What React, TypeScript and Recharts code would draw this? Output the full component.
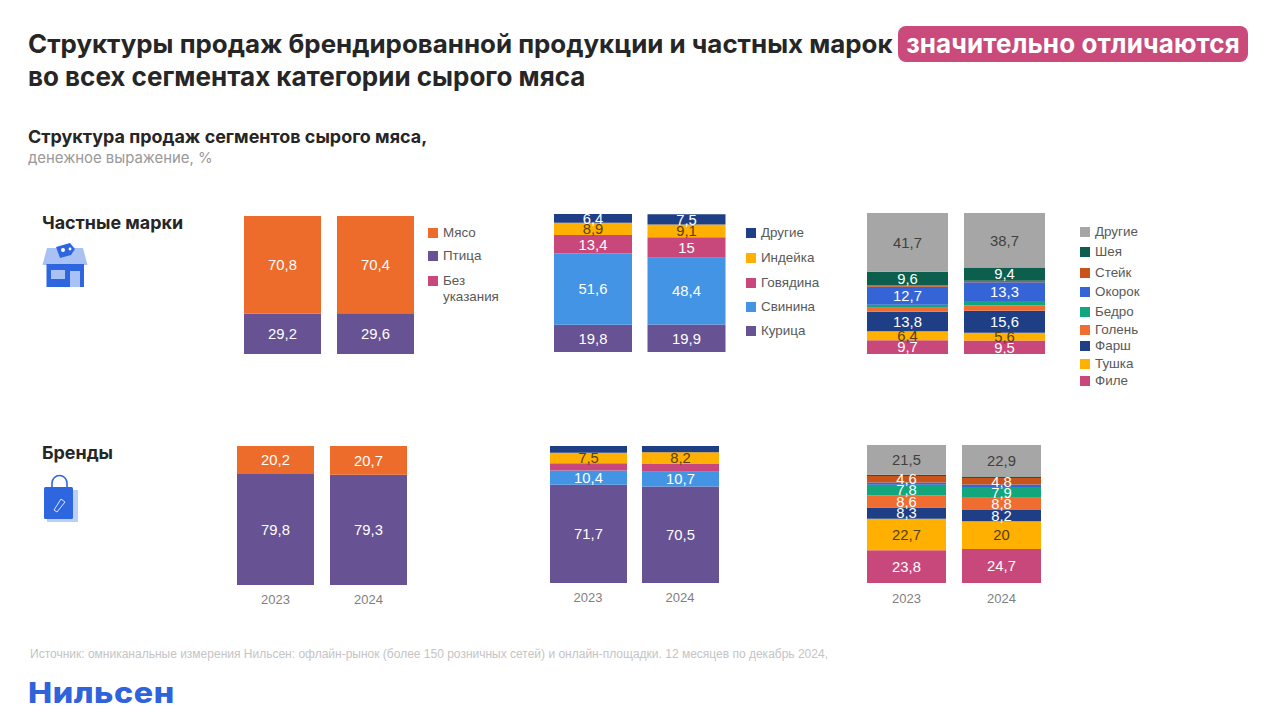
import { BarChart, Bar, XAxis, YAxis, LabelList, Legend } from "recharts";

const years = ["2023", "2024"];

// Частные марки
const plPoultry = [29.2, 29.6];
const plMeat = [70.8, 70.4];
const plUnspecified = [0, 0];

const plChicken = [19.8, 19.9];
const plPork = [51.6, 48.4];
const plBeef = [13.4, 15];
const plTurkey = [8.9, 9.1];
const plOtherMeat = [6.4, 7.5];

const plFillet = [9.7, 9.5];
const plCarcass = [6.4, 5.6];
const plMince = [13.8, 15.6];
const plShank = [2.9, 3.9];
const plThigh = [2.2, 3.0];
const plHam = [12.7, 13.3];
const plSteak = [1.0, 1.0];
const plNeck = [9.6, 9.4];
const plOtherCut = [41.7, 38.7];

// Бренды
const brPoultry = [79.8, 79.3];
const brMeat = [20.2, 20.7];

const brChicken = [71.7, 70.5];
const brPork = [10.4, 10.7];
const brBeef = [5.4, 6.0];
const brTurkey = [7.5, 8.2];
const brOtherMeat = [5.0, 4.6];

const brFillet = [23.8, 24.7];
const brCarcass = [22.7, 20];
const brMince = [8.3, 8.2];
const brShank = [8.6, 8.8];
const brThigh = [7.8, 7.9];
const brHam = [1.7, 1.7];
const brSteak = [4.6, 4.8];
const brNeck = [1.0, 1.0];
const brOtherCut = [21.5, 22.9];

const meatNames = ["Птица", "Мясо", "Без указания"];
const speciesNames = ["Курица", "Свинина", "Говядина", "Индейка", "Другие"];
const cutNames = ["Филе", "Тушка", "Фарш", "Голень", "Бедро", "Окорок", "Стейк", "Шея", "Другие"];

const meatLegend = ["Мясо", "Птица", "Без указания"];
const speciesLegend = ["Другие", "Индейка", "Говядина", "Свинина", "Курица"];
const cutLegend = ["Другие", "Шея", "Стейк", "Окорок", "Бедро", "Голень", "Фарш", "Тушка", "Филе"];

const meatColors: Record<string, string> = { Птица: "#675293", Мясо: "#EE6C2B", "Без указания": "#C9487B" };
const speciesColors: Record<string, string> = {
  Курица: "#675293",
  Свинина: "#4394E5",
  Говядина: "#C9487B",
  Индейка: "#FFB000",
  Другие: "#1E3F86",
};
const cutColors: Record<string, string> = {
  Филе: "#C9487B",
  Тушка: "#FFB000",
  Фарш: "#1E3F86",
  Голень: "#F06D32",
  Бедро: "#12A67C",
  Окорок: "#3564D6",
  Стейк: "#C9541A",
  Шея: "#0C5F4C",
  Другие: "#A6A6A6",
};

const FONT = "'Liberation Sans', Arial, sans-serif";
const HEAD = "Inter, 'Noto Sans', sans-serif";
// room above the plot so labels of thin top segments are not cut
const TOP_PAD = 10;

function makeRows(names: string[], values: number[][]) {
  return years.map((year, i) => {
    const row: Record<string, string | number> = { year };
    names.forEach((name, n) => {
      row[name] = values[n][i];
    });
    return row;
  });
}

function labelColor(fill: string) {
  if (fill === "#FFB000") return "#553F0C";
  if (fill === "#A6A6A6") return "#404040";
  return "#FFFFFF";
}

function SegmentLegend({ payload, order, rows }: any) {
  return (
    <div style={{ position: "relative", fontFamily: FONT, fontSize: 13.4, color: "#595959" }}>
      {order.map((name: string, i: number) => {
        const item = (payload || []).find((p: any) => p.value === name);
        if (!item) return null;
        return (
          <div key={name}>
            <div
              style={{
                position: "absolute",
                left: 0,
                top: rows[i] - 5,
                width: 10,
                height: 10,
                background: item.color,
              }}
            />
            <div
              style={{
                position: "absolute",
                left: 15,
                top: rows[i] - 8,
                width: 64,
                lineHeight: "16px",
                textAlign: "left",
              }}
            >
              {name}
            </div>
          </div>
        );
      })}
    </div>
  );
}

interface SegmentChartProps {
  left: number;
  top: number;
  plotWidth: number;
  plotHeight: number;
  barSize: number;
  names: string[];
  values: number[][];
  colors: Record<string, string>;
  unlabeled?: string[];
  legendOrder?: string[];
  legendLeft?: number;
  legendRows?: number[];
  showYears?: boolean;
  tickMargin?: number;
}

function SegmentChart({
  left,
  top,
  plotWidth,
  plotHeight,
  barSize,
  names,
  values,
  colors,
  unlabeled = [],
  legendOrder,
  legendLeft = 0,
  legendRows = [],
  showYears = false,
  tickMargin = 8,
}: SegmentChartProps) {
  const extra = legendOrder ? 130 : 0;
  const axisHeight = showYears ? 30 : 0;
  return (
    <div style={{ position: "absolute", left, top: top - TOP_PAD }}>
      <BarChart
        width={plotWidth + extra}
        height={plotHeight + axisHeight + TOP_PAD}
        data={makeRows(names, values)}
        margin={{ top: TOP_PAD, right: extra, bottom: 0, left: 0 }}
        barSize={barSize}
      >
        <XAxis
          dataKey="year"
          hide={!showYears}
          height={axisHeight}
          axisLine={false}
          tickLine={false}
          tickMargin={tickMargin}
          tick={{ fontSize: 13, fill: "#7F7F7F", fontFamily: FONT }}
        />
        <YAxis hide domain={[0, 100]} />
        {legendOrder && (
          <Legend
            layout="vertical"
            align="center"
            verticalAlign="middle"
            wrapperStyle={{ left: legendLeft, top: TOP_PAD, width: 100, height: 10 }}
            content={(props: any) => (
              <SegmentLegend payload={props.payload} order={legendOrder} rows={legendRows} />
            )}
          />
        )}
        {names.map((name) => (
          <Bar key={name} dataKey={name} name={name} stackId="a" fill={colors[name]} isAnimationActive={false}>
            {!unlabeled.includes(name) && (
              <LabelList
                dataKey={name}
                position="center"
                formatter={(v: any) => String(v).replace(".", ",")}
                style={{ fontSize: 14.8, fontFamily: FONT, fill: labelColor(colors[name]) }}
              />
            )}
          </Bar>
        ))}
      </BarChart>
    </div>
  );
}

function StoreIcon() {
  return (
    <svg style={{ position: "absolute", left: 40, top: 240 }} width={50} height={50} viewBox="0 0 50 50">
      <path d="M7 8 H43 L47.5 25 H2.5 Z" fill="#A9C2F3" />
      <rect x="6.5" y="24" width="37.5" height="23" fill="#2E66E0" />
      <rect x="11" y="30" width="14" height="9" fill="#A9C2F3" />
      <rect x="30" y="31" width="10" height="16" fill="#A9C2F3" />
      <path d="M16 7 L30 3 L35 9 L31 15 L20 18 Z" fill="#2E66E0" />
      <circle cx="23" cy="10" r="2" fill="#FFFFFF" />
      <circle cx="30" cy="9" r="1.4" fill="#FFFFFF" />
    </svg>
  );
}

function BagIcon() {
  return (
    <svg style={{ position: "absolute", left: 40, top: 472 }} width={42} height={52} viewBox="0 0 42 52">
      <rect x="7" y="18" width="31" height="32" fill="#BCD0F6" />
      <path d="M12 18 V11 a7.5 7.5 0 0 1 15 0 V18" fill="none" stroke="#2E66E0" strokeWidth="1.6" />
      <rect x="4" y="15" width="29" height="32" rx="1.5" fill="#2E66E0" />
      <path d="M14 38 L21 27 L25 30 L17 40 Z" fill="none" stroke="#DDE7FB" strokeWidth="1" />
    </svg>
  );
}

const text = (left: number, top: number, style: React.CSSProperties): React.CSSProperties => ({
  position: "absolute",
  left,
  top,
  whiteSpace: "nowrap",
  ...style,
});

export default function App() {
  return (
    <div style={{ position: "absolute", left: 0, top: 0, width: 1280, height: 720, background: "#FFFFFF", overflow: "hidden" }}>
      <div style={text(28, 27, { fontFamily: HEAD, fontWeight: 700, fontSize: 25.9, lineHeight: "34px", color: "#262626" })}>
        Структуры продаж брендированной продукции и частных марок
      </div>
      <div
        style={text(898, 26, {
          width: 350,
          height: 36,
          borderRadius: 8,
          background: "#C94A7B",
          color: "#FFFFFF",
          fontFamily: HEAD,
          fontWeight: 700,
          fontSize: 26,
          lineHeight: "35px",
          letterSpacing: 0.1,
          textAlign: "center",
        })}
      >
        значительно отличаются
      </div>
      <div style={text(28, 60, { fontFamily: HEAD, fontWeight: 700, fontSize: 26, lineHeight: "34px", color: "#262626" })}>
        во всех сегментах категории сырого мяса
      </div>

      <div style={text(28, 126, { fontFamily: HEAD, fontWeight: 700, fontSize: 17.95, lineHeight: "22px", color: "#262626" })}>
        Структура продаж сегментов сырого мяса,
      </div>
      <div style={text(28, 148, { fontFamily: HEAD, fontSize: 14.9, lineHeight: "20px", color: "#999999" })}>
        денежное выражение, %
      </div>

      <div style={text(42, 212, { fontFamily: HEAD, fontWeight: 700, fontSize: 17.9, lineHeight: "22px", color: "#262626" })}>
        Частные марки
      </div>
      <StoreIcon />
      <div style={text(42, 442, { fontFamily: HEAD, fontWeight: 700, fontSize: 17.9, lineHeight: "22px", color: "#262626" })}>
        Бренды
      </div>
      <BagIcon />

      <SegmentChart
        left={236}
        top={216}
        plotWidth={186}
        plotHeight={138}
        barSize={77}
        names={meatNames}
        values={[plPoultry, plMeat, plUnspecified]}
        colors={meatColors}
        unlabeled={["Без указания"]}
        legendOrder={meatLegend}
        legendLeft={192}
        legendRows={[17, 40, 65]}
      />
      <SegmentChart
        left={546}
        top={214}
        plotWidth={187}
        plotHeight={138}
        barSize={78}
        names={speciesNames}
        values={[plChicken, plPork, plBeef, plTurkey, plOtherMeat]}
        colors={speciesColors}
        legendOrder={speciesLegend}
        legendLeft={200}
        legendRows={[19, 44, 69, 93, 117]}
      />
      <SegmentChart
        left={859}
        top={213}
        plotWidth={194}
        plotHeight={141}
        barSize={81}
        names={cutNames}
        values={[plFillet, plCarcass, plMince, plShank, plThigh, plHam, plSteak, plNeck, plOtherCut]}
        colors={cutColors}
        unlabeled={["Голень", "Бедро", "Стейк"]}
        legendOrder={cutLegend}
        legendLeft={221}
        legendRows={[19, 39, 60, 79, 99, 117, 133, 151, 168]}
      />

      <SegmentChart
        left={229}
        top={446}
        plotWidth={186}
        plotHeight={139}
        barSize={77}
        names={meatNames.slice(0, 2)}
        values={[brPoultry, brMeat]}
        colors={meatColors}
        showYears
        tickMargin={4}
      />
      <SegmentChart
        left={542}
        top={446}
        plotWidth={184}
        plotHeight={137}
        barSize={77}
        names={speciesNames}
        values={[brChicken, brPork, brBeef, brTurkey, brOtherMeat]}
        colors={speciesColors}
        unlabeled={["Говядина", "Другие"]}
        showYears
        tickMargin={4}
      />
      <SegmentChart
        left={859}
        top={445}
        plotWidth={190}
        plotHeight={138}
        barSize={79}
        names={cutNames}
        values={[brFillet, brCarcass, brMince, brShank, brThigh, brHam, brSteak, brNeck, brOtherCut]}
        colors={cutColors}
        unlabeled={["Окорок", "Шея"]}
        showYears
        tickMargin={5}
      />

      <div style={text(30, 647, { fontFamily: FONT, fontSize: 12, lineHeight: "14px", color: "#C4C4C4" })}>
        Источник: омниканальные измерения Нильсен: офлайн-рынок (более 150 розничных сетей) и онлайн-площадки. 12 месяцев по декабрь 2024,
      </div>
      <div
        style={text(28, 675, {
          fontFamily: HEAD,
          fontWeight: 800,
          fontSize: 28,
          lineHeight: "36px",
          color: "#2E63DC",
          letterSpacing: 0.5,
          transform: "scaleX(1.15)",
          transformOrigin: "left center",
        })}
      >
        Нильсен
      </div>
    </div>
  );
}
